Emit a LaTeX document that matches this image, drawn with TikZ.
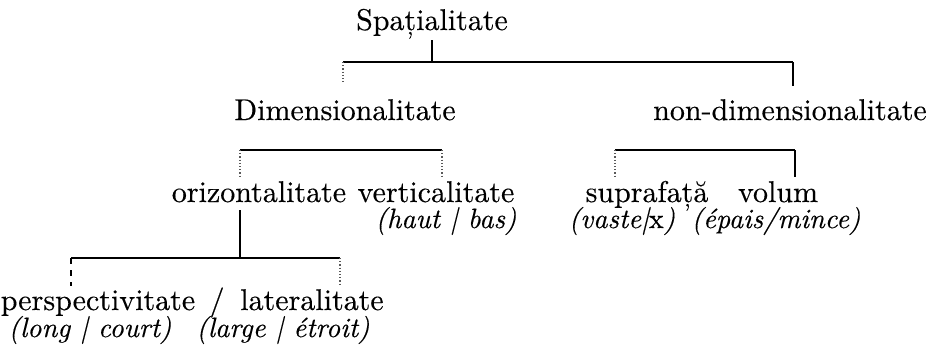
\documentclass[tikz,border=0pt]{standalone}
\usepackage{fontspec}
\setmainfont{lmroman10}[Extension=.otf, UprightFont=*-regular, ItalicFont=*-italic, BoldFont=*-bold, FakeBold=0.35]
\begin{document}
\begin{tikzpicture}[x=0.5pt,y=-0.5pt,
  lbl/.style={font=\fontsize{15}{18}\selectfont, inner sep=0pt, anchor=base},
  ex/.style={font=\fontsize{14}{17}\selectfont\itshape, inner sep=0pt, anchor=base},
  ln/.style={line width=0.7pt, black},
  faint/.style={line width=0.6pt, densely dotted, black!65}]
\useasboundingbox (0,0) rectangle (929,344);
% labels
\node[lbl] (spat) at (432,30) {Spațialitate};
\node[lbl] (dim) at (345,120) {Dimensionalitate};
\node[lbl] (nondim) at (790,120) {non-dimensionalitate};
\node[lbl] (oriz) at (259,202) {orizontalitate};
\node[lbl] (vert) at (436,202) {verticalitate};
\node[lbl] (supra) at (647,202) {suprafață};
\node[lbl] (vol) at (778,202) {volum};
\node[ex] (haut) at (446,228) {(haut | bas)};
\node[ex] (vaste) at (622,228) {(vaste|\upshape x\itshape)};
\node[ex] (epais) at (776,228) {(épais/mince)};
\node[lbl] (persp) at (98,310) {perspectivitate};
\node[lbl] (slash) at (217,310) {/};
\node[lbl] (later) at (312,310) {lateralitate};
\node[ex] (long) at (90,337) {(long | court)};
\node[ex] (large) at (283,337) {(large | étroit)};
% junction coordinates
\coordinate (s0) at (432,40);
\coordinate (s1) at (432,62);
\coordinate (sL) at (343,62);
\coordinate (sR) at (793,62);
\coordinate (sLd) at (343,84);
\coordinate (sRd) at (793,86);
\coordinate (dL) at (240,150);
\coordinate (dR) at (442,150);
\coordinate (dLd) at (240,178);
\coordinate (dRd) at (442,178);
\coordinate (nL) at (615,150);
\coordinate (nR) at (795,150);
\coordinate (nLd) at (615,178);
\coordinate (nRd) at (795,177);
\coordinate (o0) at (240,210);
\coordinate (o1) at (240,258);
\coordinate (oL) at (71,258);
\coordinate (oR) at (340,258);
\coordinate (oLd) at (71,286);
\coordinate (oRd) at (340,286);
% connectors
\draw[ln] (s0) -- (s1);
\draw[ln] (sL) -- (sR);
\draw[faint] (sL) -- (sLd);
\draw[ln] (sR) -- (sRd);
\draw[ln] (dL) -- (dR);
\draw[faint] (dL) -- (dLd);
\draw[faint] (dR) -- (dRd);
\draw[ln] (nL) -- (nR);
\draw[faint] (nL) -- (nLd);
\draw[ln] (nR) -- (nRd);
\draw[ln] (o0) -- (o1);
\draw[ln] (oL) -- (oR);
\draw[ln, dashed] (oL) -- (oLd);
\draw[faint] (oR) -- (oRd);
\end{tikzpicture}
\end{document}
